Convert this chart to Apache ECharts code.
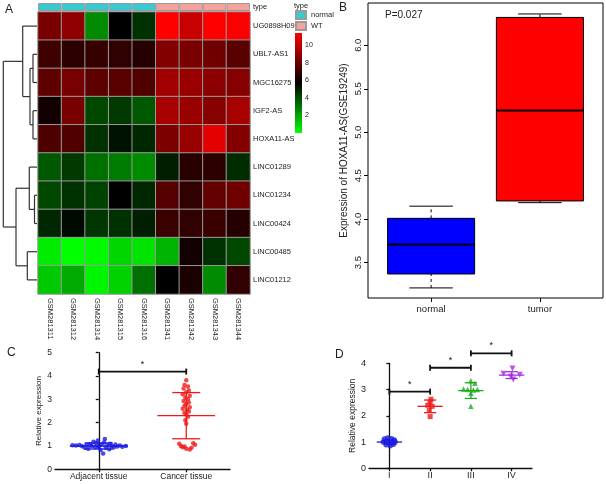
<!DOCTYPE html>
<html>
<head>
<meta charset="utf-8">
<title>HOXA11-AS</title>
<script src="https://cdn.jsdelivr.net/npm/echarts@6.0.0/dist/echarts.min.js"></script>
<style>
  html, body { margin: 0; padding: 0; background: #fff; }
  #chart { width: 606px; height: 484px; }
</style>
</head>
<body>
<div id="chart"></div>
<script>
// ---- A: heatmap ----
var genes = ['UG0898H09', 'UBL7-AS1', 'MGC16275', 'IGF2-AS', 'HOXA11-AS',
  'LINC01289', 'LINC01234', 'LINC00424', 'LINC00485', 'LINC01212'];
var samples = ['GSM281311', 'GSM281312', 'GSM281314', 'GSM281315', 'GSM281316',
  'GSM281341', 'GSM281342', 'GSM281343', 'GSM281344'];
var sampleType = ['normal', 'normal', 'normal', 'normal', 'normal', 'WT', 'WT', 'WT', 'WT'];
var expr = [
  [8.4, 8.9, 2.6, 5.7, 4.6, 11.4, 10.2, 11.4, 11.3],
  [7.1, 6.7, 6.9, 6.8, 6.5, 8.6, 8.4, 8.2, 7.7],
  [7.8, 8.4, 7.8, 7.7, 7.5, 9.3, 9.1, 8.8, 8.7],
  [6.1, 8.4, 4.1, 4.4, 3.7, 9.4, 9.1, 8.7, 9.4],
  [7.4, 7.5, 4.6, 5.3, 4.8, 8.5, 9.1, 10.8, 8.6],
  [3.7, 4.4, 3.2, 2.9, 2.6, 5.0, 6.6, 6.7, 4.7],
  [4.1, 4.6, 4.2, 5.7, 4.8, 7.6, 6.8, 7.9, 8.2],
  [4.8, 5.5, 4.5, 4.6, 5.0, 7.0, 6.8, 7.0, 6.5],
  [0.4, 0.0, 0.1, 0.9, 0.6, 1.7, 6.1, 4.6, 4.1],
  [1.2, 1.9, 0.2, 1.0, 3.2, 5.7, 6.3, 2.6, 6.8]
];
var scaleTicks = [2, 4, 6, 8, 10];
// row dendrogram, hclust style: negative = leaf (1-based), positive = earlier merge
var merges = [
  [-2, -3, 4], [-4, -5, 4], [1, 2, 7], [-1, 3, 14.3],
  [-7, -8, 2.5], [-6, 5, 7.7], [-9, -10, 9.7], [6, 7, 21], [4, 8, 33.7]
];

// ---- B: boxplot ----
var boxGroups = ['normal', 'tumor'];
var boxNormal = [3.21, 3.37, 3.71, 4.01, 4.15];
var boxTumor = [4.19, 4.21, 5.25, 6.32, 6.36];
var boxTicks = [3.5, 4.0, 4.5, 5.0, 5.5, 6.0];

// ---- C: tissue dot plot, [offset from category, value] ----
var tissueNames = ['Adjacent tissue', 'Cancer tissue'];
var adjPoints = [[-0.30, 1.03], [-0.26, 1.02], [-0.22, 1.04], [-0.19, 0.99], [-0.16, 0.92],
  [-0.14, 1.05], [-0.12, 0.88], [-0.10, 1.08], [-0.08, 1.00], [-0.06, 1.18], [-0.04, 0.95],
  [-0.03, 1.12], [-0.01, 1.24], [0.00, 0.97], [0.02, 0.83], [0.03, 1.05], [0.05, 0.68],
  [0.06, 1.15], [0.07, 1.30], [0.08, 0.92], [0.10, 1.03], [0.12, 0.86], [0.13, 1.10],
  [0.15, 1.00], [0.17, 0.94], [0.19, 1.06], [0.21, 0.98], [0.24, 1.02], [0.27, 0.97], [0.31, 1.00]];
var cancerPoints = [[0.00, 3.82], [-0.02, 3.62], [0.02, 3.55], [-0.03, 3.46], [0.03, 3.38],
  [0.00, 3.30], [-0.04, 3.22], [0.04, 3.15], [-0.01, 3.08], [0.02, 3.00], [-0.03, 2.93],
  [0.03, 2.86], [0.00, 2.80], [-0.02, 2.72], [0.04, 2.66], [-0.04, 2.60], [0.01, 2.55],
  [0.03, 2.48], [-0.02, 2.42], [0.00, 2.35], [0.02, 2.25], [-0.01, 2.10], [0.00, 1.95],
  [-0.08, 1.10], [0.08, 1.12], [-0.06, 1.00], [0.10, 1.05], [-0.04, 0.95], [0.06, 0.92],
  [0.00, 0.88], [0.04, 0.85], [-0.02, 0.98]];
var tissueMean = [1.0, 2.30];
var tissueSd = [0.13, 0.99];

// ---- D: stages ----
var stages = ['I', 'II', 'III', 'IV'];
var stagePoints = [
  [[-0.12, 1.12], [-0.04, 1.15], [0.05, 1.13], [0.12, 1.08], [-0.15, 1.0], [-0.06, 1.02],
   [0.04, 0.98], [0.14, 1.0], [-0.08, 0.9], [0.02, 0.86], [0.1, 0.92]],
  [[0.02, 2.63], [0.0, 2.52], [-0.06, 2.40], [0.05, 2.36], [-0.02, 2.2], [0.0, 1.97]],
  [[0.0, 3.34], [0.1, 3.24], [-0.18, 3.02], [-0.08, 3.0], [0.06, 2.98], [0.16, 3.0],
   [0.0, 2.86], [0.0, 2.36]],
  [[0.02, 3.8], [-0.2, 3.6], [0.2, 3.56], [-0.02, 3.5], [0.04, 3.38]]
];
var stageMean = [1.0, 2.36, 2.96, 3.55];
var stageSd = [0.08, 0.24, 0.3, 0.13];

var FONT = '"Liberation Sans", Arial, sans-serif';
var chart = echarts.init(document.getElementById('chart'));

var heatData = [];
expr.forEach(function (row, r) {
  row.forEach(function (v, c) { heatData.push([c, r, v]); });
});

// dendrogram segments [h1, y1, h2, y2]
var dendro = [];
(function () {
  var pos = [];
  function node(ref) { return ref < 0 ? [0, -ref - 0.5] : pos[ref - 1]; }
  merges.forEach(function (m) {
    var a = node(m[0]), b = node(m[1]), h = m[2];
    dendro.push([a[0], a[1], h, a[1]]);
    dendro.push([b[0], b[1], h, b[1]]);
    dendro.push([h, a[1], h, b[1]]);
    pos.push([h, (a[1] + b[1]) / 2]);
  });
})();

function seg(p1, p2) { return { x1: p1[0], y1: p1[1], x2: p2[0], y2: p2[1] }; }

function offsetPoints(pts, idx) {
  return pts.map(function (p) { return [idx + p[0], p[1]]; });
}

function errorBars(colors, meanHalf, capHalf) {
  return function (params, api) {
    var x = api.value(0), m = api.value(1), sd = api.value(2);
    var col = colors[params.dataIndex];
    var st = { stroke: col, lineWidth: 1.3 };
    return {
      type: 'group', children: [
        { type: 'line', shape: seg(api.coord([x, m - sd]), api.coord([x, m + sd])), style: st },
        { type: 'line', shape: seg(api.coord([x - meanHalf, m]), api.coord([x + meanHalf, m])), style: st },
        { type: 'line', shape: seg(api.coord([x - capHalf, m + sd]), api.coord([x + capHalf, m + sd])), style: st },
        { type: 'line', shape: seg(api.coord([x - capHalf, m - sd]), api.coord([x + capHalf, m - sd])), style: st }
      ]
    };
  };
}

function bracket(params, api) {
  var a = api.coord([api.value(0), api.value(2)]);
  var b = api.coord([api.value(1), api.value(2)]);
  var st = { stroke: '#111', lineWidth: 1.8 };
  return {
    type: 'group', children: [
      { type: 'line', shape: seg(a, b), style: st },
      { type: 'line', shape: { x1: a[0], y1: a[1] - 3, x2: a[0], y2: a[1] + 3 }, style: st },
      { type: 'line', shape: { x1: b[0], y1: b[1] - 3, x2: b[0], y2: b[1] + 3 }, style: st },
      { type: 'text', style: { x: (a[0] + b[0]) / 2, y: a[1] - 3, text: '*', fill: '#111',
        font: '9px ' + FONT, align: 'center', verticalAlign: 'bottom' } }
    ]
  };
}

var boxColors = ['#0000ff', '#ff0000'];
function boxItem(params, api) {
  var x = api.value(0);
  var v = [api.value(1), api.value(2), api.value(3), api.value(4), api.value(5)];
  function c(dx, y) { return api.coord([x + dx, y]); }
  var tl = c(-0.4, v[3]), br = c(0.4, v[1]);
  var dash = { stroke: '#000', lineWidth: 1, lineDash: [3, 3] };
  var solid = { stroke: '#000', lineWidth: 1 };
  return {
    type: 'group', children: [
      { type: 'line', shape: seg(c(0, v[3]), c(0, v[4])), style: dash },
      { type: 'line', shape: seg(c(0, v[0]), c(0, v[1])), style: dash },
      { type: 'line', shape: seg(c(-0.2, v[4]), c(0.2, v[4])), style: solid },
      { type: 'line', shape: seg(c(-0.2, v[0]), c(0.2, v[0])), style: solid },
      { type: 'rect', shape: { x: tl[0], y: tl[1], width: br[0] - tl[0], height: br[1] - tl[1] },
        style: { fill: boxColors[params.dataIndex], stroke: '#000', lineWidth: 1 } },
      { type: 'line', shape: seg(c(-0.4, v[2]), c(0.4, v[2])), style: { stroke: '#000', lineWidth: 2 } }
    ]
  };
}

function txt(text, left, top, size) {
  return { text: text, left: left, top: top, padding: 0,
    textStyle: { fontSize: size, fontWeight: 'normal', color: '#222', fontFamily: FONT } };
}

var lbl = { fontFamily: FONT, color: '#222' };
var blackLine = { lineStyle: { color: '#111', width: 1.3 } };

var option = {
  animation: false,
  backgroundColor: '#fff',
  title: [
    txt('A', 5, 4, 12), txt('type', 253, 3, 7.5), txt('type', 294, 2, 7.5),
    txt('B', 339, 2, 12), txt('P=0.027', 385, 10, 10),
    txt('C', 7, 347, 12), txt('D', 335, 349, 12)
  ],
  legend: {
    data: ['normal', 'WT'], orient: 'vertical', left: 295, top: 10, padding: 0,
    itemWidth: 10, itemHeight: 8, itemGap: 1, icon: 'rect', selectedMode: false,
    textStyle: { fontSize: 7.5, color: '#222', fontFamily: FONT }
  },
  visualMap: {
    type: 'continuous', seriesIndex: 0, min: 0, max: 11.4, show: false,
    inRange: { color: ['#00ff00', '#000000', '#ff0000'] }
  },
  grid: [
    { left: 38, top: 12, width: 212, height: 282 },
    { left: 38, top: 3, width: 212, height: 8 },
    { left: 295, top: 33, width: 7, height: 100 },
    { left: 3, top: 12, width: 34, height: 282 },
    { left: 368, top: 3, width: 235, height: 295, show: true, borderColor: '#000', borderWidth: 1 },
    { left: 55, top: 352.7, width: 175, height: 116.6 },
    { left: 369, top: 363.3, width: 163, height: 105 }
  ],
  xAxis: [
    { type: 'category', gridIndex: 0, data: samples, axisLine: { show: false }, axisTick: { show: false },
      axisLabel: Object.assign({ rotate: -90, fontSize: 7.5, margin: 4 }, lbl) },
    { type: 'category', gridIndex: 1, data: samples, show: false },
    { type: 'category', gridIndex: 2, data: ['scale'], show: false },
    { type: 'value', gridIndex: 3, min: 0, max: 34, inverse: true, show: false },
    { type: 'value', gridIndex: 4, min: 0.42, max: 2.58, axisLine: { show: false }, splitLine: { show: false },
      axisTick: { customValues: [1, 2], length: 4, lineStyle: { color: '#000' } },
      axisLabel: Object.assign({ customValues: [1, 2], fontSize: 9.5, margin: 6,
        formatter: function (v) { return boxGroups[Math.round(v) - 1]; } }, lbl) },
    { type: 'value', gridIndex: 5, min: -0.5, max: 1.5, splitLine: { show: false },
      axisLine: blackLine, axisTick: Object.assign({ customValues: [0, 1], length: 3 }, blackLine),
      axisLabel: Object.assign({ customValues: [0, 1], fontSize: 8.5, margin: 3,
        formatter: function (v) { return tissueNames[Math.round(v)]; } }, lbl) },
    { type: 'value', gridIndex: 6, min: -0.5, max: 3.5, splitLine: { show: false },
      axisLine: blackLine, axisTick: Object.assign({ customValues: [0, 1, 2, 3], length: 3 }, blackLine),
      axisLabel: Object.assign({ customValues: [0, 1, 2, 3], fontSize: 9, margin: 3,
        formatter: function (v) { return stages[Math.round(v)]; } }, lbl) }
  ],
  yAxis: [
    { type: 'category', gridIndex: 0, data: genes, inverse: true, position: 'right',
      axisLine: { show: false }, axisTick: { show: false },
      axisLabel: Object.assign({ fontSize: 7.5, margin: 3 }, lbl) },
    { type: 'value', gridIndex: 1, min: 0, max: 1, show: false },
    { type: 'value', gridIndex: 2, min: 0, max: 11.4, position: 'right', splitLine: { show: false },
      axisLine: { show: false }, axisTick: { show: false },
      axisLabel: Object.assign({ customValues: scaleTicks, fontSize: 7, margin: 3 }, lbl) },
    { type: 'value', gridIndex: 3, min: 0, max: 10, inverse: true, show: false },
    { type: 'value', gridIndex: 4, min: 3.094, max: 6.486, axisLine: { show: false }, splitLine: { show: false },
      axisTick: { customValues: boxTicks, length: 4, lineStyle: { color: '#000' } },
      axisLabel: Object.assign({ customValues: boxTicks, rotate: 90, fontSize: 9.5, margin: 5,
        formatter: function (v) { return v.toFixed(1); } }, lbl),
      name: 'Expression of HOXA11-AS(GSE19249)', nameLocation: 'middle', nameGap: 19,
      nameTextStyle: { fontSize: 10, color: '#222', fontFamily: FONT } },
    { type: 'value', gridIndex: 5, min: 0, max: 5, interval: 1, splitLine: { show: false },
      axisLine: blackLine, axisTick: Object.assign({ length: 3 }, blackLine),
      axisLabel: Object.assign({ fontSize: 8.5, margin: 3 }, lbl),
      name: 'Relative expression', nameLocation: 'middle', nameGap: 12,
      nameTextStyle: { fontSize: 8, color: '#222', fontFamily: FONT } },
    { type: 'value', gridIndex: 6, min: 0, max: 4, interval: 1, splitLine: { show: false },
      axisLine: blackLine, axisTick: Object.assign({ length: 3 }, blackLine),
      axisLabel: Object.assign({ fontSize: 9, margin: 3 }, lbl),
      name: 'Relative expression', nameLocation: 'middle', nameGap: 11,
      nameTextStyle: { fontSize: 8.5, color: '#222', fontFamily: FONT } }
  ],
  series: [
    { type: 'heatmap', xAxisIndex: 0, yAxisIndex: 0, data: heatData, silent: true,
      itemStyle: { borderColor: '#9a9a9a', borderWidth: 1 } },
    { name: 'normal', type: 'bar', xAxisIndex: 1, yAxisIndex: 1, stack: 'type', barWidth: '100%', silent: true,
      data: sampleType.map(function (t) { return t === 'normal' ? 1 : '-'; }),
      itemStyle: { color: '#38c9d1', borderColor: '#9a9a9a', borderWidth: 1 } },
    { name: 'WT', type: 'bar', xAxisIndex: 1, yAxisIndex: 1, stack: 'type', barWidth: '100%', silent: true,
      data: sampleType.map(function (t) { return t === 'WT' ? 1 : '-'; }),
      itemStyle: { color: '#f4a29b', borderColor: '#9a9a9a', borderWidth: 1 } },
    { type: 'bar', xAxisIndex: 2, yAxisIndex: 2, data: [11.4], barWidth: 7, silent: true,
      itemStyle: { color: new echarts.graphic.LinearGradient(0, 1, 0, 0, [
        { offset: 0, color: '#00ff00' }, { offset: 0.5, color: '#000000' }, { offset: 1, color: '#ff0000' }]) } },
    { type: 'custom', xAxisIndex: 3, yAxisIndex: 3, data: dendro, silent: true,
      renderItem: function (params, api) {
        return { type: 'line', shape: seg(api.coord([api.value(0), api.value(1)]), api.coord([api.value(2), api.value(3)])),
          style: { stroke: '#333', lineWidth: 1.2 } };
      } },
    { type: 'custom', xAxisIndex: 4, yAxisIndex: 4, silent: true, renderItem: boxItem,
      data: [[1].concat(boxNormal), [2].concat(boxTumor)] },
    { type: 'scatter', xAxisIndex: 5, yAxisIndex: 5, data: offsetPoints(adjPoints, 0), symbolSize: 4.5,
      itemStyle: { color: '#1a1ae0' }, silent: true },
    { type: 'scatter', xAxisIndex: 5, yAxisIndex: 5, data: offsetPoints(cancerPoints, 1), symbolSize: 4.5,
      itemStyle: { color: '#ee1a1a' }, silent: true },
    { type: 'custom', xAxisIndex: 5, yAxisIndex: 5, silent: true,
      renderItem: errorBars(['#1a1ae0', '#ee1a1a'], 0.33, 0.16),
      data: tissueMean.map(function (m, i) { return [i, m, tissueSd[i]]; }) },
    { type: 'custom', xAxisIndex: 5, yAxisIndex: 5, silent: true, renderItem: bracket, data: [[0, 1, 4.19]] },
    { type: 'scatter', xAxisIndex: 6, yAxisIndex: 6, data: offsetPoints(stagePoints[0], 0), symbol: 'circle',
      symbolSize: 5.5, itemStyle: { color: '#1a1ae0' }, silent: true },
    { type: 'scatter', xAxisIndex: 6, yAxisIndex: 6, data: offsetPoints(stagePoints[1], 1), symbol: 'rect',
      symbolSize: 5, itemStyle: { color: '#ee1a1a' }, silent: true },
    { type: 'scatter', xAxisIndex: 6, yAxisIndex: 6, data: offsetPoints(stagePoints[2], 2), symbol: 'triangle',
      symbolSize: 5.5, itemStyle: { color: '#1eaa1e' }, silent: true },
    { type: 'scatter', xAxisIndex: 6, yAxisIndex: 6, data: offsetPoints(stagePoints[3], 3), symbol: 'triangle',
      symbolRotate: 180, symbolSize: 6, itemStyle: { color: '#a030e0' }, silent: true },
    { type: 'custom', xAxisIndex: 6, yAxisIndex: 6, silent: true,
      renderItem: errorBars(['#1a1ae0', '#ee1a1a', '#1eaa1e', '#a030e0'], 0.31, 0.15),
      data: stageMean.map(function (m, i) { return [i, m, stageSd[i]]; }) },
    { type: 'custom', xAxisIndex: 6, yAxisIndex: 6, silent: true, renderItem: bracket,
      data: [[0, 1, 2.92], [1, 2, 3.83], [2, 3, 4.38]] }
  ]
};
chart.setOption(option);
</script>
</body>
</html>
